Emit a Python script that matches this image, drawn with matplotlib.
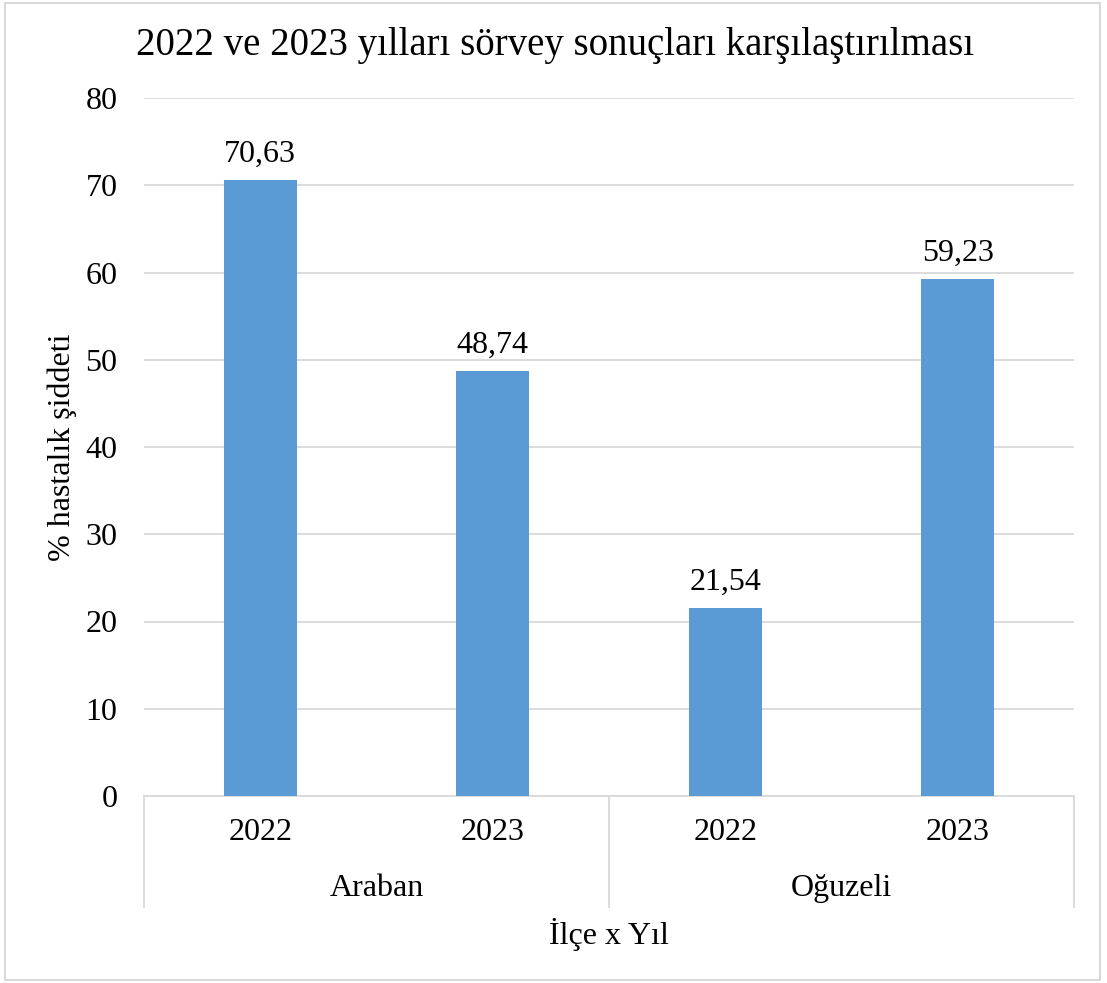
import numpy as np
import matplotlib.pyplot as plt
from matplotlib.patches import Rectangle
from matplotlib.lines import Line2D
from matplotlib.transforms import blended_transform_factory

plt.rcParams['font.family'] = ['Liberation Serif', 'DejaVu Serif']

districts = ["Araban", "Oğuzeli"]
years = ["2022", "2023", "2022", "2023"]
severity = [70.63, 48.74, 21.54, 59.23]

BLUE = "#5B9BD5"
GRID = "#D9D9D9"
FS = 23

fig = plt.figure(figsize=(11.07, 9.83), dpi=100)
ax = fig.add_axes([144 / 1107, 1 - 796 / 983, 930 / 1107, 698 / 983])

x = np.arange(len(severity))
bars = ax.bar(x, severity, width=0.315, color=BLUE, zorder=3)
ax.bar_label(bars, labels=[f"{v:.2f}".replace(".", ",") for v in severity],
             padding=8, fontsize=FS)

ax.set_xlim(-0.5, len(severity) - 0.5)
ax.set_ylim(0, 80)
ax.set_yticks(np.arange(0, 81, 10))
ax.tick_params(axis="y", length=0, labelsize=FS, pad=19)
ax.grid(axis="y", color=GRID, linewidth=1.3, zorder=0)
for s in ["top", "right", "left"]:
    ax.spines[s].set_visible(False)
ax.spines["bottom"].set_color(GRID)
ax.spines["bottom"].set_linewidth(1.3)

# two-level category axis: years, then districts
ax.set_xticks([])
tr = blended_transform_factory(ax.transData, ax.transAxes)
for xi, yr in zip(x, years):
    ax.text(xi, -0.053, yr, transform=tr, ha="center", va="center", fontsize=FS)
for i, d in enumerate(districts):
    ax.text(2 * i + 0.5, -0.132, d, transform=tr, ha="center", va="center", fontsize=FS)
for xs in [-0.5, 1.5, 3.5]:
    ax.add_line(Line2D([xs, xs], [0, -0.159], transform=tr, color=GRID,
                       linewidth=1.3, clip_on=False))

ax.text(0.5, -0.199, "İlçe x Yıl", transform=ax.transAxes, ha="center",
        va="center", fontsize=FS)
ax.set_ylabel("% hastalık şiddeti", fontsize=FS, va="center")
ax.yaxis.set_label_coords(-0.088, 0.5)

fig.text(555 / 1107, 1 - 45 / 983, "2022 ve 2023 yılları sörvey sonuçları karşılaştırılması",
         ha="center", va="center", fontsize=28)

fig.patches.append(Rectangle((5 / 1107, 3 / 983), 1095 / 1107, 977 / 983,
                             transform=fig.transFigure, fill=False,
                             edgecolor=GRID, linewidth=1.5))

fig.savefig("out.png", dpi=100)
